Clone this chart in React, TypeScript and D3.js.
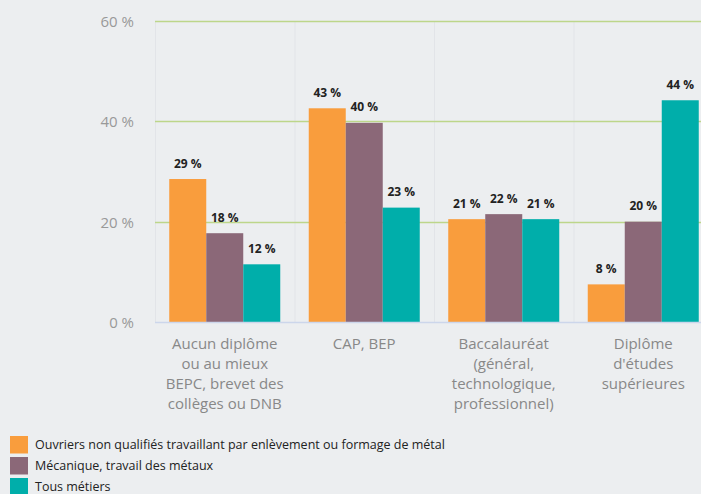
import React from "react";
import * as d3 from "d3";

const categories = [
  "Aucun diplôme ou au mieux BEPC, brevet des collèges ou DNB",
  "CAP, BEP",
  "Baccalauréat (général, technologique, professionnel)",
  "Diplôme d'études supérieures",
];
const categoryLines = [
  ["Aucun diplôme", "ou au mieux", "BEPC, brevet des", "collèges ou DNB"],
  ["CAP, BEP"],
  ["Baccalauréat", "(général,", "technologique,", "professionnel)"],
  ["Diplôme", "d'études", "supérieures"],
];
const seriesNames = [
  "Ouvriers non qualifiés travaillant par enlèvement ou formage de métal",
  "Mécanique, travail des métaux",
  "Tous métiers",
];
const seriesColors = ["#f99d3d", "#8b6878", "#00aeaa"];
const ouvriers = [28.5, 42.6, 20.5, 7.5];
const mecanique = [17.7, 39.7, 21.5, 20.0];
const tous = [11.5, 22.8, 20.5, 44.2];
const yTicks = [0, 20, 40, 60];

const seriesValues = [ouvriers, mecanique, tous];

export default function App() {
  const width = 701;
  const height = 494;
  const left = 155;
  const right = 713;
  const top = 21;
  const bottom = 322;

  const x = d3.scaleBand<string>().domain(categories).range([left, right]).paddingInner(0);
  const xs = d3
    .scaleBand<string>()
    .domain(seriesNames)
    .range([0, x.bandwidth()])
    .paddingInner(0)
    .paddingOuter(0.385);
  const y = d3.scaleLinear().domain([0, 60]).range([bottom, top]);

  const font = "'Open Sans', sans-serif";

  return (
    <svg
      width={width}
      height={height}
      style={{ position: "absolute", left: 0, top: 0, background: "#eceef0" }}
    >
      <rect x={0} y={0} width={width} height={height} fill="#eceef0" />
      {/* category separators */}
      {categories.map((c) => (
        <line
          key={"sep" + c}
          x1={(x(c) as number) + 0.5}
          x2={(x(c) as number) + 0.5}
          y1={top}
          y2={bottom}
          stroke="#e2e4e8"
        />
      ))}
      {/* grid */}
      {yTicks
        .filter((t) => t > 0)
        .map((t) => (
          <line
            key={"g" + t}
            x1={left}
            x2={right}
            y1={Math.round(y(t)) + 0.5}
            y2={Math.round(y(t)) + 0.5}
            stroke="#bdd68a"
            strokeWidth={1.5}
          />
        ))}
      {yTicks.map((t) => (
        <text
          key={"yl" + t}
          x={134}
          y={y(t) + 6}
          textAnchor="end"
          fontFamily={font}
          fontSize={15}
          fill="#999"
        >
          {t + " %"}
        </text>
      ))}
      {/* bars */}
      {seriesValues.map((vals, si) =>
        vals.map((v, ci) => {
          const bx = (x(categories[ci]) as number) + (xs(seriesNames[si]) as number);
          return (
            <rect
              key={"b" + si + ci}
              x={bx}
              y={y(v)}
              width={xs.bandwidth()}
              height={y(0) - y(v)}
              fill={seriesColors[si]}
            />
          );
        })
      )}
      {/* axis line */}
      <line x1={left} x2={right} y1={bottom + 0.5} y2={bottom + 0.5} stroke="#ccd6eb" strokeWidth={1.5} />
      {/* data labels */}
      {seriesValues.map((vals, si) =>
        vals.map((v, ci) => {
          const cx =
            (x(categories[ci]) as number) + (xs(seriesNames[si]) as number) + xs.bandwidth() / 2;
          return (
            <text
              key={"l" + si + ci}
              x={cx}
              y={y(v) - 11.5}
              textAnchor="middle"
              fontFamily={font}
              fontSize={12}
              fontWeight="bold"
              fill="#222"
            >
              {Math.round(v) + " %"}
            </text>
          );
        })
      )}
      {/* x labels */}
      {categories.map((c, ci) => (
        <text
          key={"xl" + c}
          textAnchor="middle"
          fontFamily={font}
          fontSize={15}
          fill="#888"
        >
          {categoryLines[ci].map((ln, li) => (
            <tspan key={li} x={(x(c) as number) + x.bandwidth() / 2} y={349 + li * 20}>
              {ln}
            </tspan>
          ))}
        </text>
      ))}
      {/* legend */}
      {seriesNames.map((s, si) => (
        <g key={"lg" + si} transform={`translate(10, ${436 + si * 21})`}>
          <rect x={0} y={0} width={18} height={17.5} fill={seriesColors[si]} />
          <text x={25} y={13} fontFamily={font} fontSize={12.5} fill="#222">
            {s}
          </text>
        </g>
      ))}
    </svg>
  );
}
